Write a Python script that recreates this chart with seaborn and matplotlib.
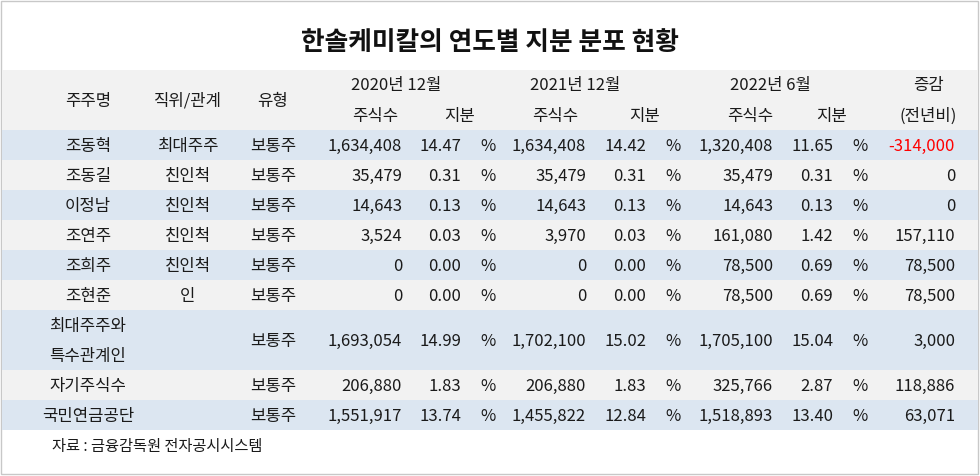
import matplotlib
matplotlib.use("Agg")
import matplotlib.pyplot as plt
from matplotlib import font_manager
import seaborn as sns
import pandas as pd

sns.set_theme(style="white")
avail = {f.name for f in font_manager.fontManager.ttflist}
FONT = next((f for f in ["Noto Sans CJK KR", "Noto Sans CJK JP", "Noto Sans CJK SC"] if f in avail), "DejaVu Sans")
plt.rcParams["font.family"] = [FONT, "DejaVu Sans"]

names = ["조동혁", "조동길", "이정남", "조연주", "조희주", "조현준", "최대주주와\n특수관계인", "자기주식수", "국민연금공단"]
roles = ["최대주주", "친인척", "친인척", "친인척", "친인척", "인", "", "", ""]
types = ["보통주"] * 9
shares_2020 = ["1,634,408", "35,479", "14,643", "3,524", "0", "0", "1,693,054", "206,880", "1,551,917"]
pct_2020 = ["14.47", "0.31", "0.13", "0.03", "0.00", "0.00", "14.99", "1.83", "13.74"]
shares_2021 = ["1,634,408", "35,479", "14,643", "3,970", "0", "0", "1,702,100", "206,880", "1,455,822"]
pct_2021 = ["14.42", "0.31", "0.13", "0.03", "0.00", "0.00", "15.02", "1.83", "12.84"]
shares_2022 = ["1,320,408", "35,479", "14,643", "161,080", "78,500", "78,500", "1,705,100", "325,766", "1,518,893"]
pct_2022 = ["11.65", "0.31", "0.13", "1.42", "0.69", "0.69", "15.04", "2.87", "13.40"]
change = ["-314,000", "0", "0", "157,110", "78,500", "78,500", "3,000", "118,886", "63,071"]
row_heights = [30, 30, 30, 30, 30, 30, 60, 30, 30]

df = pd.DataFrame({"name": names, "role": roles, "type": types,
                   "s20": shares_2020, "p20": pct_2020, "s21": shares_2021, "p21": pct_2021,
                   "s22": shares_2022, "p22": pct_2022, "chg": change, "h": row_heights})

fig = plt.figure(figsize=(9.8, 4.76), dpi=100)
ax = fig.add_axes([0, 0, 1, 1])
ax.set_xlim(0, 980)
ax.set_ylim(476, 0)
ax.axis("off")

ax.add_patch(plt.Rectangle((1, 1), 977, 473, fill=False, ec="#c8c8c8", lw=1))
ax.text(490, 42, "한솔케미칼의 연도별 지분 분포 현황", ha="center", va="center",
        fontsize=18.5, fontweight="bold", color="#111111", fontfamily=FONT)

blue, gray = "#dce6f1", "#f2f2f2"
ax.axhspan(70, 130, xmin=2/980, xmax=978/980, color=gray, lw=0)

fs = 12
col = "#1a1a1a"
def t(x, y, s, ha="center", c=col):
    ax.text(x, y + 1.5, s, ha=ha, va="center", fontsize=fs, color=c, fontfamily=FONT)

t(88, 100, "주주명"); t(188, 100, "직위/관계"); t(273, 100, "유형")
t(396, 84, "2020년 12월"); t(375, 115, "주식수"); t(460, 115, "지분")
t(575, 84, "2021년 12월"); t(555, 115, "주식수"); t(645, 115, "지분")
t(770, 84, "2022년 6월"); t(750, 115, "주식수"); t(832, 115, "지분")
t(928, 84, "증감"); t(928, 115, "(전년비)")

y = 130
for i, r in df.iterrows():
    h = r["h"]
    ax.axhspan(y, y + h, xmin=2/980, xmax=978/980, color=blue if i % 2 == 0 else gray, lw=0)
    cy = y + h / 2
    if "\n" in r["name"]:
        a, b = r["name"].split("\n")
        t(88, cy - 15, a); t(88, cy + 15, b)
    else:
        t(88, cy, r["name"])
    if r["role"]:
        t(188, cy, r["role"])
    t(273, cy, r["type"])
    t(402, cy, r["s20"], "right"); t(461, cy, r["p20"], "right"); t(488, cy, "%")
    t(586, cy, r["s21"], "right"); t(646, cy, r["p21"], "right"); t(673, cy, "%")
    t(773, cy, r["s22"], "right"); t(833, cy, r["p22"], "right"); t(860, cy, "%")
    t(955, cy, r["chg"], "right", c="#ff0000" if r["chg"].startswith("-") else col)
    y += h

ax.text(52, 446, "자료 : 금융감독원 전자공시시스템", ha="left", va="center", fontsize=11,
        color=col, fontfamily=FONT)

fig.savefig("out.png", dpi=100)
